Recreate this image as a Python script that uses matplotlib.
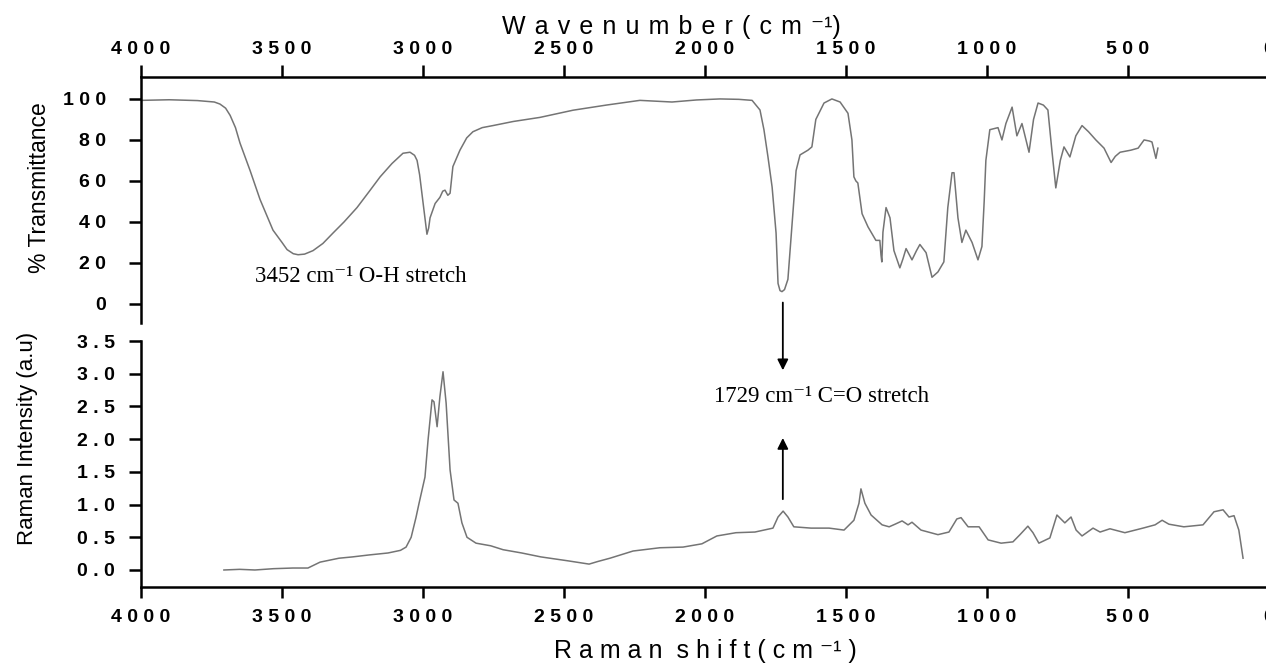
import matplotlib
matplotlib.use("Agg")
import numpy as np
from matplotlib import pyplot as plt
from matplotlib.ticker import FuncFormatter, FixedLocator

# FTIR spectrum (wavenumber, % transmittance)
ftir_wn = [4000, 3900, 3800, 3740, 3720, 3700, 3684, 3665, 3649, 3613, 3578, 3532, 3500, 3482,
           3460, 3443, 3420, 3390, 3355, 3319, 3280, 3234, 3190, 3152, 3110, 3071, 3046, 3030,
           3021, 3012, 3004, 2993, 2986, 2980, 2975, 2957, 2940, 2930, 2922, 2912, 2904, 2894,
           2869, 2845, 2823, 2790, 2752, 2680, 2585, 2468, 2350, 2231, 2117, 2030, 1947, 1880,
           1833, 1805, 1791, 1777, 1762, 1748, 1741, 1734, 1727, 1718, 1706, 1692, 1677, 1663,
           1635, 1621, 1607, 1578, 1550, 1521, 1493, 1479, 1472, 1465, 1458, 1443, 1422, 1394,
           1380, 1376, 1373, 1369, 1358, 1344, 1330, 1309, 1298, 1287, 1266, 1250, 1238, 1216,
           1195, 1174, 1153, 1139, 1124, 1117, 1103, 1089, 1075, 1053, 1032, 1018, 1010, 1004,
           990, 961, 947, 933, 911, 894, 876, 851, 835, 819, 800, 784, 770, 756, 740, 727, 706,
           685, 663, 640, 614, 585, 560, 545, 528, 490, 464, 443, 425, 415, 401, 394]
ftir_t = [99.3, 99.6, 99.2, 98.5, 97.5, 95.5, 92, 86, 78.5, 65, 51, 36, 30, 26.5,
          24.5, 24, 24.3, 26, 29.5, 34.6, 40, 47, 55, 62, 68.5, 73.5, 74, 72.5,
          70, 63, 54, 42, 34, 37, 42, 49, 52, 55, 55.5, 53, 54, 67,
          75, 81, 84, 86, 87, 89, 91, 94.5, 97, 99.3, 98.5, 99.5, 100, 99.8,
          99.3, 94.6, 85, 72, 57, 34.6, 10, 6.5, 6, 7, 12, 37.6, 65, 72.7,
          75, 76.6, 90, 98, 100, 98.5, 93, 80, 62, 60, 59, 44, 37.6, 31,
          31, 24, 20.5, 35, 47, 42, 26, 17.6, 22, 27, 21.5, 26, 29, 25,
          13, 15.6, 20.5, 47, 64, 64, 42, 30, 36, 30, 21.5, 28, 50, 70,
          85, 86, 80, 88, 96, 82, 88, 74, 90, 98, 97, 94.6, 75, 56.6, 70, 76.6, 71.7,
          82, 87, 84, 80, 76, 69, 72, 74, 75, 76, 80, 79.5, 79, 71, 76]

# Raman spectrum (shift, intensity a.u.)
raman_shift = [3706, 3650, 3596, 3530, 3461, 3408, 3365, 3298, 3250, 3191, 3124, 3080, 3060, 3042,
               3025, 3014, 2993, 2982, 2968, 2961, 2950, 2940, 2929, 2918, 2904, 2890, 2876, 2862,
               2844, 2812, 2760, 2716, 2650, 2582, 2486, 2411, 2380, 2337, 2255, 2160, 2078, 2011,
               1958, 1890, 1823, 1759, 1741, 1723, 1706, 1685, 1624, 1560, 1507, 1472, 1454, 1447,
               1433, 1411, 1372, 1347, 1326, 1301, 1280, 1266, 1234, 1174, 1135, 1107, 1092, 1067,
               1028, 996, 950, 908, 883, 855, 837, 816, 777, 752, 724, 702, 684, 663, 624, 599,
               564, 511, 447, 404, 379, 355, 302, 234, 195, 163, 142, 124, 107, 92]
raman_int = [0.0, 0.01, 0.0, 0.02, 0.03, 0.03, 0.12, 0.18, 0.2, 0.23, 0.26, 0.3, 0.35, 0.5,
             0.8, 1.02, 1.42, 1.99, 2.6, 2.57, 2.19, 2.65, 3.03, 2.55, 1.53, 1.07, 1.02, 0.72,
             0.5, 0.41, 0.37, 0.31, 0.26, 0.2, 0.14, 0.09, 0.13, 0.18, 0.29, 0.34, 0.35, 0.4,
             0.52, 0.57, 0.58, 0.64, 0.81, 0.9, 0.81, 0.66, 0.64, 0.64, 0.61, 0.76, 1.02, 1.24,
             1.02, 0.84, 0.69, 0.66, 0.7, 0.75, 0.69, 0.73, 0.61, 0.54, 0.58, 0.78, 0.8, 0.66,
             0.66, 0.46, 0.41, 0.43, 0.54, 0.67, 0.57, 0.41, 0.49, 0.84, 0.72, 0.81, 0.61, 0.52, 0.64, 0.58,
             0.63, 0.57, 0.64, 0.69, 0.76, 0.7, 0.66, 0.69, 0.89, 0.92, 0.81, 0.83, 0.61, 0.18]

x_ticks = [4000, 3500, 3000, 2500, 2000, 1500, 1000, 500, 0]
ftir_ticks = [0, 20, 40, 60, 80, 100]
raman_ticks = [0.0, 0.5, 1.0, 1.5, 2.0, 2.5, 3.0, 3.5]

SANS = ["Liberation Sans", "DejaVu Sans"]
SERIF = ["Liberation Serif", "DejaVu Serif"]
plt.rcParams["font.family"] = SANS

line_col = "#747474"


def spaced(s, sep=" "):
    return sep.join(s)


fig = plt.figure(figsize=(12.66, 6.67), dpi=100)
ax1 = fig.add_axes([141 / 1266, 1 - 323 / 667, 1128 / 1266, 246 / 667])
ax2 = fig.add_axes([141 / 1266, 1 - 587 / 667, 1128 / 1266, 246 / 667])

ax1.plot(ftir_wn, ftir_t, color=line_col, lw=1.1)
ax2.plot(raman_shift, raman_int, color=line_col, lw=1.1)

for ax in (ax1, ax2):
    ax.set_xlim(4000, 0)
    ax.xaxis.set_major_locator(FixedLocator(x_ticks))
    ax.xaxis.set_major_formatter(FuncFormatter(lambda v, p: spaced(str(int(round(v))))))
    ax.spines["right"].set_visible(False)
    ax.spines["left"].set_linewidth(1.8)
    ax.tick_params(width=1.8, labelsize=14, colors="black")

# top panel
ax1.set_ylim(-9.3, 110.7)
ax1.yaxis.set_major_locator(FixedLocator(ftir_ticks))
ax1.yaxis.set_major_formatter(FuncFormatter(lambda v, p: spaced(str(int(round(v))))))
ax1.spines["bottom"].set_visible(False)
ax1.spines["top"].set_linewidth(1.8)
ax1.xaxis.tick_top()
ax1.tick_params(axis="x", length=9, pad=5)
ax1.tick_params(axis="y", length=9, pad=16)

# bottom panel
ax2.set_ylim(-0.26, 3.5)
ax2.yaxis.set_major_locator(FixedLocator(raman_ticks))
ax2.yaxis.set_major_formatter(FuncFormatter(lambda v, p: spaced(f"{v:.1f}")))
ax2.spines["top"].set_visible(False)
ax2.spines["bottom"].set_linewidth(1.8)
ax2.tick_params(axis="x", length=8, pad=8)
ax2.tick_params(axis="y", length=9, pad=10)

for ax in (ax1, ax2):
    for lab in ax.get_xticklabels() + ax.get_yticklabels():
        lab.set_fontweight("bold")

# axis titles
gap = " \u200a"
fig.text(671 / 1266, 1 - 27 / 667, spaced("Wavenumber", gap) + gap + spaced("(cm", gap) + gap + "\u207b\u00b9)",
         ha="center", va="center", fontsize=18, family=SANS)
fig.text(705 / 1266, 1 - 651 / 667, "R a m a n  s h i f t ( c m \u207b\u00b9 )",
         ha="center", va="center", fontsize=18, family=SANS)
fig.text(40 / 1266, 1 - 188 / 667, "% Transmittance", rotation=90, ha="center", va="center", fontsize=16.5)
fig.text(28 / 1266, 1 - 438 / 667, "Raman Intensity (a.u)", rotation=90, ha="center", va="center", fontsize=16)

# annotations
ax1.text(3596, 13.2, "3452 cm\u207b\u00b9 O-H stretch", family=SERIF, fontsize=16.5, va="center", ha="left")
ax2.text(1968, 2.65, "1729 cm\u207b\u00b9 C=O stretch", family=SERIF, fontsize=16.5, va="center", ha="left")
ax2.annotate("", xy=(1724, 3.01), xytext=(1724, 4.13), annotation_clip=False,
             arrowprops=dict(arrowstyle="-|>", color="black", lw=1.3, mutation_scale=16))
ax2.annotate("", xy=(1724, 2.06), xytext=(1724, 1.04), annotation_clip=False,
             arrowprops=dict(arrowstyle="-|>", color="black", lw=1.3, mutation_scale=16))

fig.savefig("out.png", dpi=100)
